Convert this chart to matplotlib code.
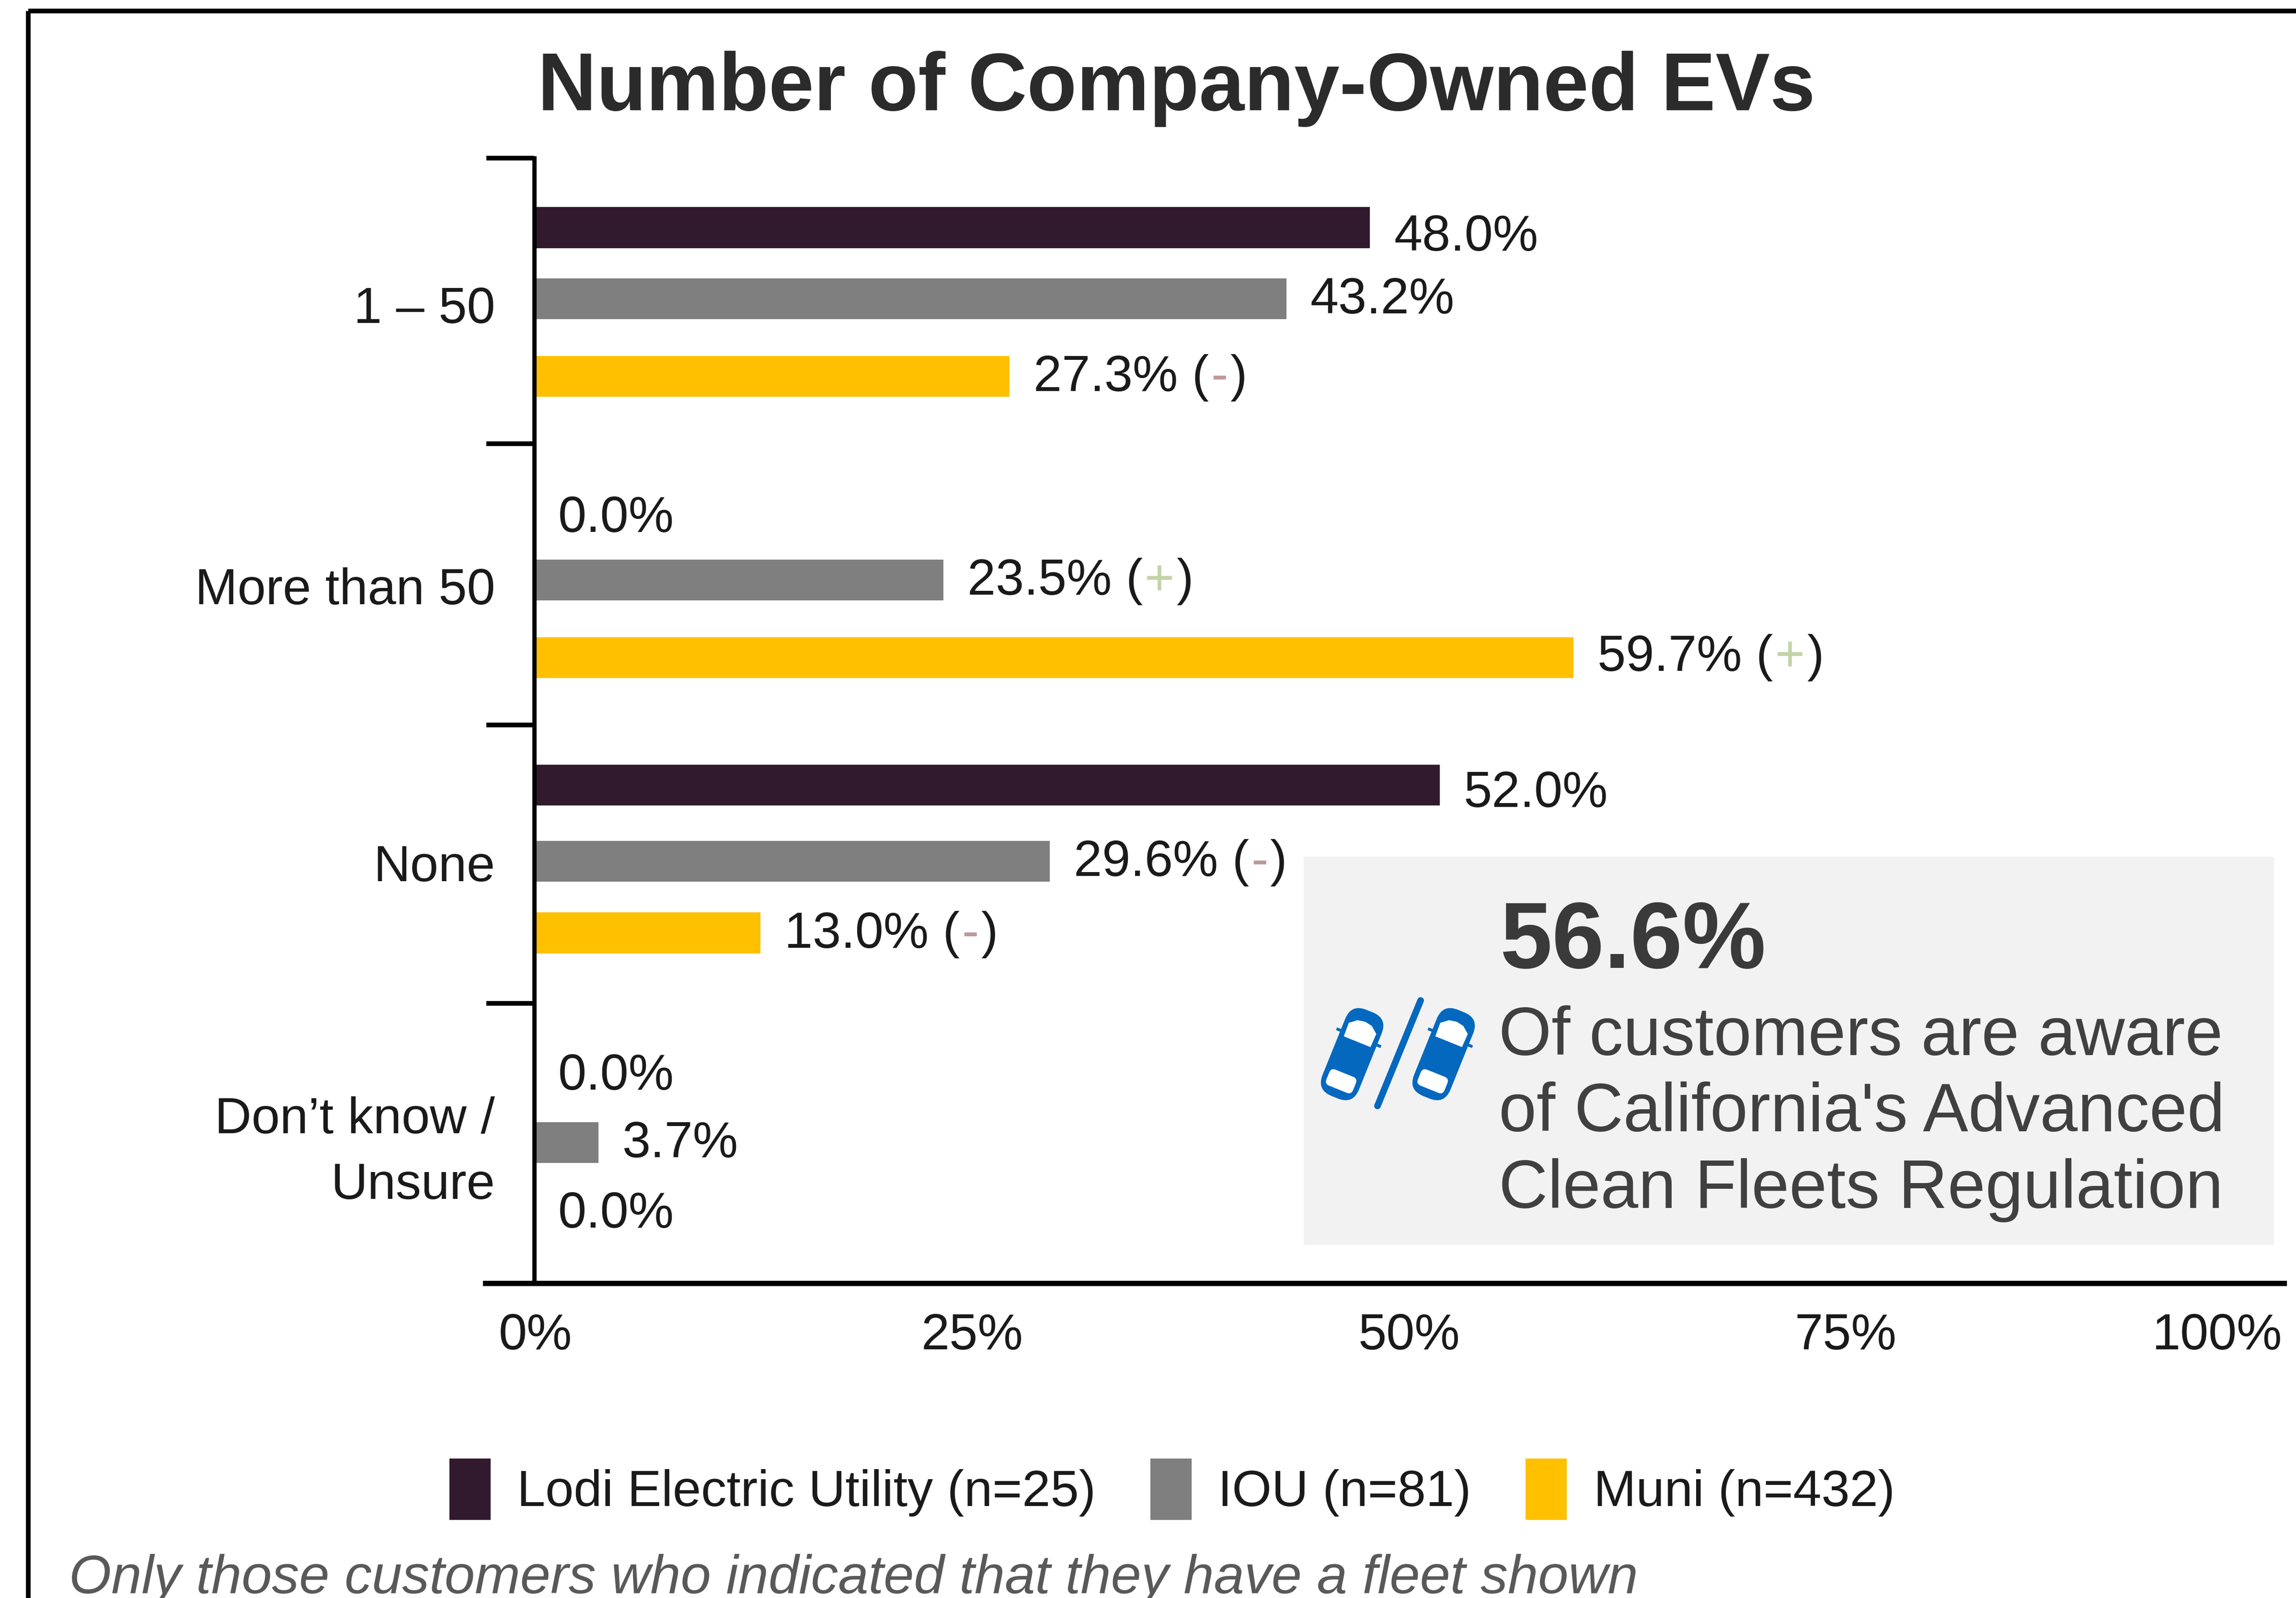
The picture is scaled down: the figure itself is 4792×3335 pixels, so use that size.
import matplotlib
matplotlib.use("Agg")
import matplotlib.pyplot as plt
from matplotlib.patches import Rectangle, FancyBboxPatch, Polygon
from matplotlib.transforms import Affine2D, ScaledTranslation

categories = ["1 – 50", "More than 50", "None", "Don’t know /\nUnsure"]
series_names = ["Lodi Electric Utility (n=25)", "IOU (n=81)", "Muni (n=432)"]
lodi = [48.0, 0.0, 52.0, 0.0]
iou = [43.2, 23.5, 29.6, 3.7]
muni = [27.3, 59.7, 13.0, 0.0]
lodi_flags = ["", "", "", ""]
iou_flags = ["", "+", "-", ""]
muni_flags = ["-", "+", "-", ""]
x_ticks = [0, 25, 50, 75, 100]

colors = ["#321A2E", "#7F7F7F", "#FFC000"]
flag_colors = {"+": "#C3D3A8", "-": "#BE9A9A"}
W, H = 4792, 3335
EM = 76.5
TEXT = "#1A1A1A"

plt.rcParams["font.family"] = ["Liberation Sans", "DejaVu Sans"]
fig = plt.figure(figsize=(W / 100, H / 100), dpi=100)

# overlay in image pixels, for the frame, the call-out and the free text
bg = fig.add_axes([0, 0, 1, 1])
bg.set_xlim(0, W)
bg.set_ylim(H, 0)
bg.axis("off")

ax = fig.add_axes([1115 / W, 1 - 2678 / H, (4767 - 1115) / W, (2678 - 330) / H])
ax.patch.set_alpha(0)
ax.set_xlim(0, 100.5)
ax.set_ylim(3.5, -0.5)

# bar offsets and label offsets inside each group
bar_offsets = [[-0.253, 0, 0.276], [-0.253, 0, 0.276], [-0.271, 0, 0.255], [-0.245, 0, 0.245]]
label_offsets = [[-0.242, -0.018, 0.258], [-0.242, -0.018, 0.253], [-0.263, -0.018, 0.237], [-0.258, -0.018, 0.232]]

for s, (name, vals, flags) in enumerate(zip(series_names, [lodi, iou, muni], [lodi_flags, iou_flags, muni_flags])):
    ys = [i + bar_offsets[i][s] for i in range(4)]
    ax.barh(ys, vals, height=0.146, color=colors[s], label=name)
    for i, v in enumerate(vals):
        x_off = 50 * 0.72
        y = i + label_offsets[i][s] + 0.07
        parts = [(f"{v:.1f}%" + (" (" if flags[i] else ""), TEXT)]
        if flags[i]:
            parts += [(flags[i], flag_colors[flags[i]]), (")", TEXT)]
        for txt, c in parts:
            t = ax.annotate(txt, (v, y), xytext=(x_off, 0), textcoords="offset points",
                            fontsize=EM, color=c, va="baseline", ha="left")
            x_off += t.get_window_extent(fig.canvas.get_renderer()).width * 0.72 + 3

ax.spines["top"].set_visible(False)
ax.spines["right"].set_visible(False)
ax.spines["left"].set_linewidth(6.5)
ax.spines["left"].set_bounds(-0.5, 3.5)
ax.spines["bottom"].set_linewidth(8)
ax.spines["bottom"].set_bounds(-2.8, 100.5)

ax.set_yticks([-0.5, 0.516, 1.516, 2.505, 3.5])
ax.set_yticklabels([])
ax.tick_params(axis="y", which="major", length=72, width=7)
ax.set_yticks([0.021, 1.021, 2.005, 2.985], minor=True)
ax.set_yticklabels(categories, minor=True, fontsize=EM, color=TEXT, linespacing=1.5)
ax.tick_params(axis="y", which="minor", length=0, pad=59)

ax.set_xticks(x_ticks)
ax.set_xticklabels([f"{t}%" for t in x_ticks], fontsize=EM, color=TEXT)
ax.tick_params(axis="x", length=0, pad=44)
# the reference's axis labels sit slightly wider than its bars
for lab, dx in zip(ax.get_xticklabels(), [3, 6, 9, 12, 15]):
    lab.set_transform(lab.get_transform() + ScaledTranslation(dx / 100, 0, fig.dpi_scale_trans))
ax.get_xticklabels()[-1].set_ha("right")

# border, only top and left fall inside the picture
bg.add_patch(Rectangle((59, 23), W + 100, H + 100, fill=False, ec="black", lw=7))

bg.text(2455, 230, "Number of Company-Owned EVs", fontsize=122.6, fontweight="bold",
        color="#2B2B2B", ha="center", va="baseline")

# call-out
bg.add_patch(Rectangle((2721, 1788), 2025, 810, fc="#F2F2F2", ec="none"))
bg.text(3131, 2020, "56.6%", fontsize=141, fontweight="bold", color="#3A3A3A", va="baseline")
for line, base in zip(["Of customers are aware", "of California's Advanced", "Clean Fleets Regulation"], [2202, 2361, 2521]):
    bg.text(3128, base, line, fontsize=102, color="#404040", va="baseline")

# icon: two cars either side of a slash
blue = "#0468BF"
for cx in [2822, 3013]:
    cy = 2200
    rot = Affine2D().rotate_deg_around(cx, cy, 22) + bg.transData
    bg.add_patch(Rectangle((cx - 50, cy - 40), 100, 6, fc=blue, ec="none", transform=rot))
    bg.add_patch(FancyBboxPatch((cx - 41, cy - 97), 82, 194, boxstyle="round,pad=0,rounding_size=34",
                                fc=blue, ec="none", transform=rot))
    bg.add_patch(Polygon([(cx - 30, cy - 28), (cx + 30, cy - 28), (cx + 31, cy - 58), (cx + 16, cy - 70),
                          (cx, cy - 73), (cx - 16, cy - 70), (cx - 31, cy - 58)],
                         fc="white", ec="none", transform=rot))
    bg.add_patch(FancyBboxPatch((cx - 30, cy + 43), 60, 36, boxstyle="round,pad=0,rounding_size=10",
                                fc="white", ec="none", transform=rot))
bg.plot([2965, 2875], [2088, 2308], color=blue, lw=10, solid_capstyle="round")

# footnote
bg.text(144, 3325, "Only those customers who indicated that they have a fleet shown", fontsize=81.8,
        style="italic", color="#595959", va="baseline")

ax.legend(loc="center left", bbox_to_anchor=(938 / W, 1 - 3108 / H), bbox_transform=fig.transFigure,
          ncol=3, frameon=False, fontsize=EM, handlelength=0.81, handleheight=1.48,
          handletextpad=0.52, columnspacing=1.07, borderpad=0, borderaxespad=0,
          labelcolor=TEXT)

fig.savefig("out.png", dpi=100)
